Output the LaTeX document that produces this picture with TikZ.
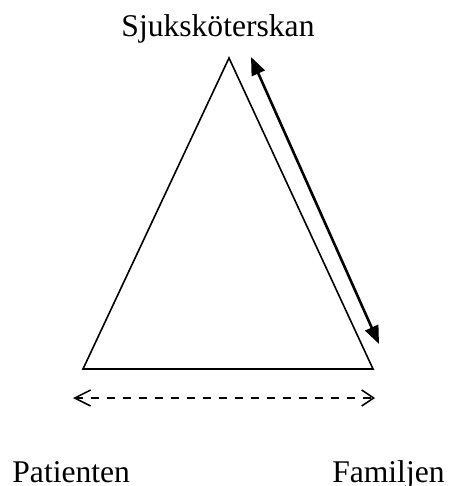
\documentclass[tikz,border=0pt]{standalone}
\usepackage{fontspec}
\setmainfont{Liberation Serif}
\usetikzlibrary{arrows.meta, positioning}
\tikzset{
  lbl/.style    = {inner sep=0pt, font=\fontsize{15.8}{19}\selectfont},
  tri/.style    = {draw=black, line width=0.8pt, line join=miter},
  twoway/.style = {{Triangle[length=9pt,width=7pt]}-{Triangle[length=9pt,width=7pt]},
                   line width=1.3pt},
  dashway/.style = {{Straight Barb[length=8pt,width=8pt,line width=0.75pt]}-{Straight Barb[length=6pt,width=8pt,line width=0.75pt]},
                   line width=0.75pt, dash pattern=on 4pt off 4pt},
}
\begin{document}
\begin{tikzpicture}[x=0.5pt, y=-0.5pt]
  \useasboundingbox (0,0) rectangle (452,486);
  % corners of the triangle
  \coordinate (top)   at (229,58);
  \coordinate (left)  at (83,369);
  \coordinate (right) at (373,369);
  \draw[tri] (top) -- (left) -- (right) -- cycle;
  % arrow along the right side
  \coordinate (a1) at (251,57);
  \coordinate (a2) at (379,344);
  \draw[twoway] (a1) -- (a2);
  % dashed arrow under the base
  \coordinate (d1) at (73,398);
  \coordinate (d2) at (375,398);
  \draw[dashway] (d1) -- (d2);
  \node[lbl, anchor=base] (nurse) at (218,37) {Sjuksköterskan};
  \node[lbl, anchor=base west] (patient) at (12,482) {Patienten};
  \node[lbl, anchor=base east] (family) at (445,482) {Familjen};
\end{tikzpicture}
\end{document}
